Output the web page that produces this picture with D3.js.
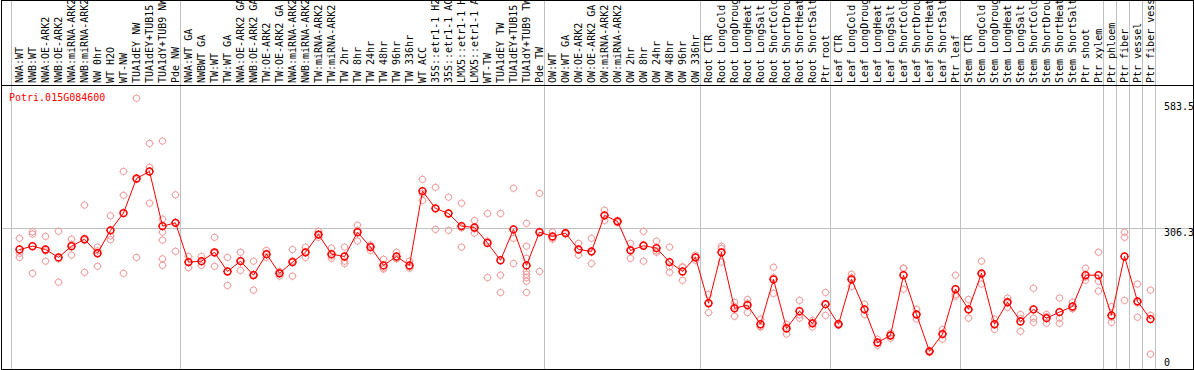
<!DOCTYPE html>
<html>
<head>
<meta charset="utf-8">
<script src="https://cdn.jsdelivr.net/npm/d3@7"></script>
<style>
  body { margin: 0; background: #fff; }
  svg { display: block; font-family: "DejaVu Sans Mono", monospace; }
</style>
</head>
<body>
<div id="chart"></div>
<script>
var geneName = "Potri.015G084600";

var labels = [
  "NWA:WT", "NWB:WT", "NWA:OE-ARK2", "NWB:OE-ARK2", "NWA:miRNA-ARK2", "NWB:miRNA-ARK2",
  "NW 0hr", "WT H2O", "WT-NW", "TUA1dEY NW", "TUA1dEY+TUB15 NW", "TUA1dY+TUB9 NW", "Pde NW",
  "NWA:WT GA", "NWBWT GA", "TW:WT", "TW:WT GA", "NWA:OE-ARK2 GA", "NWB:OE-ARK2 GA",
  "TW:OE-ARK2", "TW:OE-ARK2 GA", "NWA:miRNA-ARK2 GA", "NWB:miRNA-ARK2 GA", "TW:miRNA-ARK2",
  "TW:miRNA-ARK2 GA", "TW 2hr", "TW 8hr", "TW 24hr", "TW 48hr", "TW 96hr", "TW 336hr", "WT ACC",
  "35S::etr1-1 H2O", "35S::etr1-1 ACC", "LMX5::etr1-1 H2O", "LMX5::etr1-1 ACC", "WT-TW",
  "TUA1dEY TW", "TUA1dEY+TUB15 TW", "TUA1dY+TUB9 TW", "Pde TW",
  "OW:WT", "OW:WT GA", "OW:OE-ARK2", "OW:OE-ARK2 GA", "OW:miRNA-ARK2", "OW:miRNA-ARK2 GA",
  "OW 2hr", "OW 8hr", "OW 24hr", "OW 48hr", "OW 96hr", "OW 336hr",
  "Root CTR", "Root LongCold", "Root LongDrought", "Root LongHeat", "Root LongSalt",
  "Root ShortCold", "Root ShortDrought", "Root ShortHeat", "Root ShortSalt", "Ptr root",
  "Leaf CTR", "Leaf LongCold", "Leaf LongDrought", "Leaf LongHeat", "Leaf LongSalt",
  "Leaf ShortCold", "Leaf ShortDrought", "Leaf ShortHeat", "Leaf ShortSalt", "Ptr leaf",
  "Stem CTR", "Stem LongCold", "Stem LongDrought", "Stem LongHeat", "Stem LongSalt",
  "Stem ShortCold", "Stem ShortDrought", "Stem ShortHeat", "Stem ShortSalt", "Ptr shoot",
  "Ptr xylem", "Ptr phloem", "Ptr fiber", "Ptr vessel", "Ptr fiber vessel"
];

// mean expression per sample
var means = [
  260, 267, 260, 243, 267, 282, 252, 301, 338, 412, 427, 310, 317,
  233, 235, 254, 213, 235, 205, 250, 209, 233, 254, 292, 250, 245, 297, 265, 226, 245,
  226, 385, 348, 337, 310, 307, 274, 237, 303, 226, 297,
  288, 295, 260, 256, 333, 320, 258, 268, 263, 233, 213, 243,
  145, 254, 134, 141, 100, 196, 91, 128, 102, 143,
  100, 196, 132, 61, 76, 205, 121, 42, 79, 175,
  132, 209, 100, 147, 106, 132, 113, 126, 138, 205, 205,
  119, 245, 149, 111
];

// replicate values per sample
var reps = [
  [284, 252, 243], [298, 293, 209], [288, 235, 257], [299, 190, 240], [282, 248, 271],
  [355, 211, 280], [265, 257, 224], [332, 289, 281], [427, 376, 209], [583.5, 243, 410],
  [487, 436, 359], [492, 325, 297, 280, 240, 226], [377, 256, 318],
  [245, 221, 233], [245, 226, 234], [286, 224, 252], [243, 183, 213], [254, 215, 236],
  [235, 173, 207], [258, 243, 249], [213, 203, 211], [260, 203, 236], [265, 243, 254],
  [299, 286, 291], [263, 241, 246], [265, 235, 230], [312, 278, 301], [267, 258, 270],
  [239, 218, 221], [254, 241, 240], [235, 220, 223], [410, 365, 380], [393, 303, 348],
  [372, 301, 338], [359, 265, 306], [322, 295, 304], [337, 278, 200], [337, 205, 168],
  [391, 284, 230], [316, 267, 241, 213, 207, 200, 192, 168], [380, 213, 298],
  [297, 282, 285], [297, 293, 295], [273, 248, 259], [284, 230, 254], [344, 322, 333],
  [322, 318, 320], [273, 241, 260], [299, 235, 270], [278, 254, 257], [265, 211, 223],
  [222, 194, 223], [248, 237, 244],
  [164, 125, 146], [267, 233, 262], [147, 117, 138], [153, 125, 145], [111, 94, 95],
  [222, 200, 166], [100, 79, 94], [151, 113, 120], [108, 94, 104], [168, 119, 142],
  [102, 98, 100], [207, 200, 181], [143, 121, 132], [68, 55, 60], [81, 70, 77],
  [220, 175, 220], [132, 111, 120], [44, 40, 42], [89, 68, 80], [205, 164, 160],
  [153, 113, 130], [235, 186, 206], [111, 89, 100], [156, 136, 149], [121, 85, 112],
  [177, 113, 104], [121, 102, 116], [156, 113, 102], [147, 134, 133], [220, 194, 201],
  [254, 192, 171],
  [138, 104, 115], [297, 286, 151], [186, 115, 146], [173, 119, 36]
];

var tickValues = [583.5, 306.3, 0];
var gridValues = [306.3];
var groupBreaks = [0, 13, 41, 53, 63, 73, 84, 85, 86, 87, 88];

var width = 1194;
var height = 370;
var headerBottom = 85;
var plotLeft = 11;
var colWidth = 13;

var meanColor = "#ff0000";
var repColor = "#f09a9a";
var gridColor = "#c0c0c0";

/* Scales */
var xScale = d3.scaleLinear()
  .domain([0, labels.length])
  .range([plotLeft, plotLeft + colWidth * labels.length]);
var xPos = i => xScale(i) + 8.5;

var yScale = d3.scaleLinear()
  .domain([0, d3.max(tickValues)])
  .range([371, 98.3]);

var svg = d3.select("#chart").append("svg")
  .attr("width", width)
  .attr("height", height);

/* Grid lines */
svg.append("g")
  .selectAll("line")
  .data(groupBreaks)
  .join("line")
  .attr("x1", d => Math.round(xScale(d)) + 0.5)
  .attr("x2", d => Math.round(xScale(d)) + 0.5)
  .attr("y1", 0)
  .attr("y2", height)
  .attr("stroke", gridColor);

svg.append("g")
  .selectAll("line")
  .data(gridValues)
  .join("line")
  .attr("x1", 1)
  .attr("x2", width - 1)
  .attr("y1", d => Math.round(yScale(d)) + 0.5)
  .attr("y2", d => Math.round(yScale(d)) + 0.5)
  .attr("stroke", gridColor);

/* Frame */
svg.append("rect")
  .attr("x", 1.5).attr("y", 0.5)
  .attr("width", width - 2).attr("height", height - 1)
  .attr("fill", "none").attr("stroke", "#000");
svg.append("line")
  .attr("x1", 1).attr("x2", width - 1)
  .attr("y1", headerBottom + 0.5).attr("y2", headerBottom + 0.5)
  .attr("stroke", "#000");

/* Sample labels (long ones run off the top, as in the original) */
svg.append("g")
  .selectAll("text")
  .data(labels)
  .join("text")
  .attr("transform", (d, i) => `translate(${xPos(i) + 3.5},${headerBottom - 2}) rotate(-90)`)
  .attr("font-size", 10)
  .attr("fill", "#000")
  .text(d => d);

/* Y tick labels (right side) */
svg.append("g")
  .selectAll("text")
  .data(tickValues)
  .join("text")
  .attr("x", 1164)
  .attr("y", d => Math.min(Math.max(yScale(d) + 8, 110), 366))
  .attr("font-size", 10)
  .attr("fill", "#000")
  .text(d => d);

/* Gene name */
svg.append("text")
  .attr("x", 9)
  .attr("y", 101)
  .attr("font-size", 10)
  .attr("fill", meanColor)
  .text(geneName);

function marker(g, color, r, sw) {
  g.append("circle")
    .attr("r", r)
    .attr("fill", "none")
    .attr("stroke", color)
    .attr("stroke-width", sw);
  [[0, -1], [0, 1], [-1, 0], [1, 0]].forEach(function (v) {
    g.append("line")
      .attr("x1", v[0] * r).attr("y1", v[1] * r)
      .attr("x2", v[0] * (r + 1)).attr("y2", v[1] * (r + 1))
      .attr("stroke", color)
      .attr("stroke-width", 0.8);
  });
}

/* Replicates */
var repPoints = [];
reps.forEach(function (arr, i) {
  arr.forEach(function (v) { repPoints.push({ i: i, v: v }); });
});
svg.append("g")
  .selectAll("g")
  .data(repPoints)
  .join("g")
  .attr("transform", d => `translate(${xPos(d.i)},${yScale(d.v)})`)
  .each(function () { marker(d3.select(this), repColor, 3.2, 1); });

/* Mean line */
var line = d3.line()
  .x((d, i) => xPos(i))
  .y(d => yScale(d));

svg.append("path")
  .attr("d", line(means))
  .attr("fill", "none")
  .attr("stroke", meanColor)
  .attr("stroke-width", 1);

svg.append("g")
  .selectAll("g")
  .data(means)
  .join("g")
  .attr("transform", (d, i) => `translate(${xPos(i)},${yScale(d)})`)
  .each(function () { marker(d3.select(this), meanColor, 3.4, 1.5); });
</script>
</body>
</html>
